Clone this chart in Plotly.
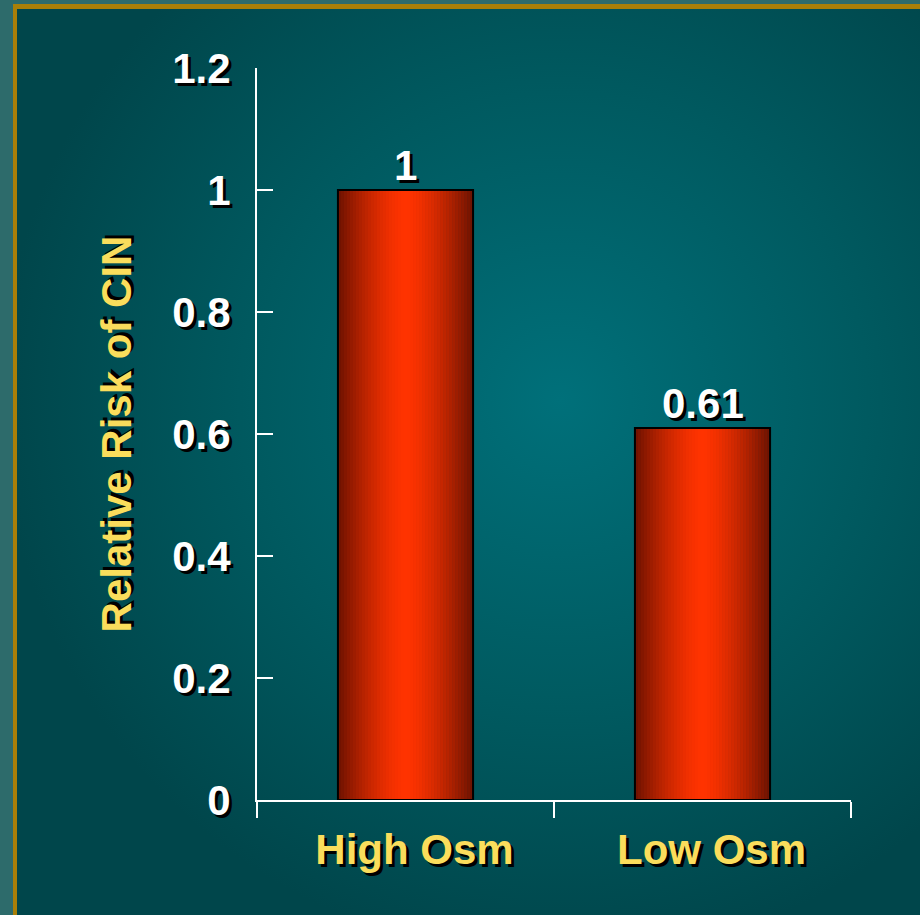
import plotly.graph_objects as go

categories = ["High Osm", "Low Osm"]
relative_risk = [1.0, 0.61]
value_labels = ["1", "0.61"]
y_ticks = [0, 0.2, 0.4, 0.6, 0.8, 1.0, 1.2]
y_tick_labels = ["0", "0.2", "0.4", "0.6", "0.8", "1", "1.2"]

W, H = 920, 915
ML, MR, MT, MB = 257, 69, 68, 115
PW, PH = W - ML - MR, H - MT - MB

FONT = "Liberation Sans, Arial, sans-serif"
FS = 42
SHADOW = "3px 3px 0px #000000"
YELLOW = "#FADD5C"

# slide backdrop: light teal strip, gold rule and a radial teal panel
bg_svg = (
    "<svg xmlns='http://www.w3.org/2000/svg' width='920' height='915' viewBox='0 0 920 915' preserveAspectRatio='none'>"
    "<defs><radialGradient id='g' cx='560' cy='400' r='560' gradientUnits='userSpaceOnUse'>"
    "<stop offset='0' stop-color='#00707a'/><stop offset='0.55' stop-color='#005a60'/>"
    "<stop offset='1' stop-color='#00464b'/></radialGradient></defs>"
    "<rect width='920' height='915' fill='#2d6b6b'/>"
    "<rect x='13' y='4' width='907' height='911' fill='#a97f08'/>"
    "<rect x='17' y='9' width='903' height='906' fill='url(#g)'/>"
    "</svg>"
)
bg_uri = "data:image/svg+xml;charset=utf-8," + bg_svg.replace("#", "%23").replace("<", "%3C").replace(">", "%3E")

fig = go.Figure()

# cylinder-like shading: each bar is built from thin vertical strips
bar_w = 0.455
n_strips = 45
dark = (0x6c, 0x12, 0x00)
bright = (0xff, 0x33, 0x00)
for i in range(n_strips):
    t = abs((i + 0.5) / n_strips - 0.5) * 2
    f = t ** 1.5
    c = tuple(round(b + (d - b) * f) for b, d in zip(bright, dark))
    sw = bar_w / n_strips
    fig.add_trace(go.Bar(
        x=categories, y=relative_risk,
        width=sw * 1.08, offset=-bar_w / 2 + i * sw,
        marker=dict(color="rgb(%d,%d,%d)" % c, line=dict(width=0)),
        hoverinfo="skip", showlegend=False,
    ))

# bar outlines
fig.add_trace(go.Bar(
    x=categories, y=relative_risk,
    width=bar_w, offset=-bar_w / 2,
    marker=dict(color="rgba(0,0,0,0)", line=dict(color="#000000", width=2)),
    hoverinfo="skip", showlegend=False,
))

# value labels sitting just above each bar
for cat, val, lab in zip(categories, relative_risk, value_labels):
    fig.add_annotation(
        x=cat, y=val, text=lab, showarrow=False,
        xanchor="center", yanchor="bottom", yshift=-1,
        font=dict(family=FONT, size=FS, color="white", weight="bold", shadow=SHADOW),
    )

fig.update_layout(
    width=W, height=H,
    margin=dict(l=ML, r=MR, t=MT, b=MB),
    barmode="overlay",
    paper_bgcolor="#00464b",
    plot_bgcolor="rgba(0,0,0,0)",
    font=dict(family=FONT, weight="bold"),
    images=[dict(
        source=bg_uri, xref="paper", yref="paper",
        x=-ML / PW, y=1 + MT / PH, sizex=W / PW, sizey=H / PH,
        xanchor="left", yanchor="top", sizing="stretch", layer="below",
    )],
    xaxis=dict(
        type="category", range=[-0.5, 1.5],
        showline=True, linecolor="white", linewidth=2,
        ticks="outside", tickson="boundaries", ticklen=16, tickwidth=2, tickcolor="white",
        showgrid=False, zeroline=False,
        tickfont=dict(family=FONT, size=FS, color=YELLOW, weight="bold", shadow=SHADOW),
        ticklabelstandoff=12, ticklabelshift=9,
    ),
    yaxis=dict(
        range=[0, 1.2], tickvals=y_ticks, ticktext=y_tick_labels,
        showline=True, linecolor="white", linewidth=2,
        ticks="inside", ticklen=16, tickwidth=2, tickcolor="white",
        showgrid=False, zeroline=False,
        tickfont=dict(family=FONT, size=FS, color="white", weight="bold", shadow=SHADOW),
        ticklabelstandoff=16,
        title=dict(text="Relative Risk of CIN", standoff=28,
                   font=dict(family=FONT, size=FS, color=YELLOW, weight="bold", shadow=SHADOW)),
    ),
)

fig.write_html("out.html")
